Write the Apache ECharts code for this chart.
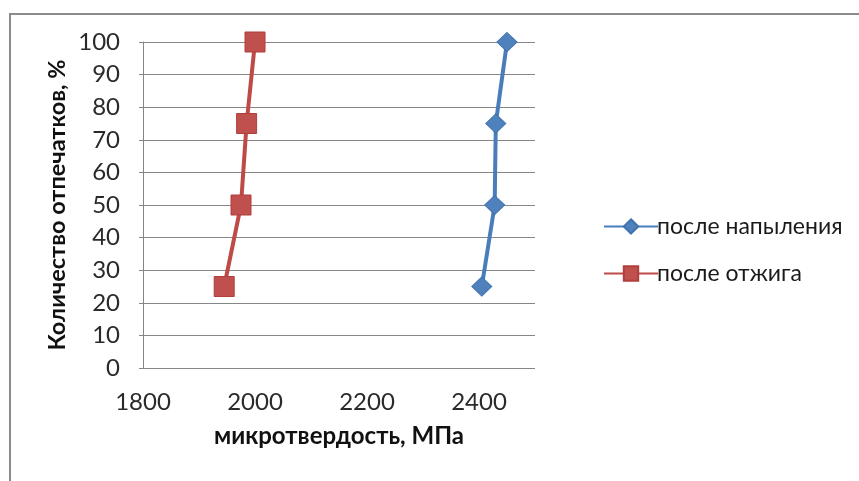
<!DOCTYPE html>
<html>
<head>
<meta charset="utf-8">
<script src="https://cdn.jsdelivr.net/npm/echarts@6/dist/echarts.min.js"></script>
<style>
  html, body { margin: 0; padding: 0; background: #fff; }
  #chart { width: 859px; height: 481px; }
</style>
</head>
<body>
<div id="chart"></div>
<script>
// Cumulative share of indentations (%) vs. microhardness (MPa)
const shares = [25, 50, 75, 100];
const afterSpraying = [2405, 2428, 2430, 2450];
const afterAnnealing = [1945, 1975, 1985, 2000];
const seriesNames = ['после напыления', 'после отжига'];
const xTicks = [1800, 2000, 2200, 2400];

const pairs = (xs) => xs.map((x, i) => [x, shares[i]]);

const font = 'Lato, "Open Sans", "Noto Sans", sans-serif';

const chart = echarts.init(document.getElementById('chart'));
chart.setOption({
  backgroundColor: '#ffffff',
  animation: false,
  graphic: [{
    type: 'rect',
    shape: { x: 10, y: 14, width: 900, height: 520 },
    style: { fill: 'none', stroke: '#8c8c8c', lineWidth: 2 },
    silent: true,
    z: -1
  }],
  grid: { left: 143, top: 42, right: 324, bottom: 113 },
  legend: {
    orient: 'vertical',
    left: 598,
    top: 210,
    itemGap: 24,
    itemWidth: 54,
    itemHeight: 18,
    textStyle: { fontFamily: font, fontSize: 23, color: '#1a1a1a', padding: [0, 0, 0, -6] },
    data: seriesNames
  },
  xAxis: {
    type: 'value',
    min: 1800,
    max: 2500,
    interval: 200,
    name: 'микротвердость, МПа',
    nameLocation: 'middle',
    nameGap: 56,
    nameTextStyle: { fontFamily: font, fontSize: 24, fontWeight: 'bold', color: '#111' },
    axisLine: { show: false },
    axisTick: { show: false },
    splitLine: { show: false },
    axisLabel: {
      fontFamily: font, fontSize: 24, color: '#2a2a2a', margin: 22,
      formatter: (v) => (xTicks.includes(v) ? String(v) : '')
    }
  },
  yAxis: {
    type: 'value',
    min: 0,
    max: 100,
    interval: 10,
    name: 'Количество отпечатков, %',
    nameLocation: 'middle',
    nameGap: 74,
    nameTextStyle: { fontFamily: font, fontSize: 23.5, fontWeight: 'bold', color: '#111' },
    axisLine: { show: true, lineStyle: { color: '#868686', width: 1 } },
    axisTick: { show: true, length: 4, lineStyle: { color: '#868686' } },
    splitLine: { show: true, lineStyle: { color: '#868686', width: 1 } },
    axisLabel: { fontFamily: font, fontSize: 24, color: '#2a2a2a', margin: 23 }
  },
  series: [
    {
      name: seriesNames[0],
      type: 'line',
      data: pairs(afterSpraying),
      symbol: 'diamond',
      symbolSize: [20, 19],
      lineStyle: { color: '#4a7ebb', width: 4 },
      itemStyle: { color: '#4f81bd', borderColor: '#3f72b0', borderWidth: 1 },
      z: 3
    },
    {
      name: seriesNames[1],
      type: 'line',
      data: pairs(afterAnnealing),
      symbol: 'rect',
      symbolSize: 20,
      lineStyle: { color: '#be4b48', width: 4 },
      itemStyle: { color: '#c0504d', borderColor: '#b03f3c', borderWidth: 1 },
      z: 3
    }
  ]
});
</script>
</body>
</html>
